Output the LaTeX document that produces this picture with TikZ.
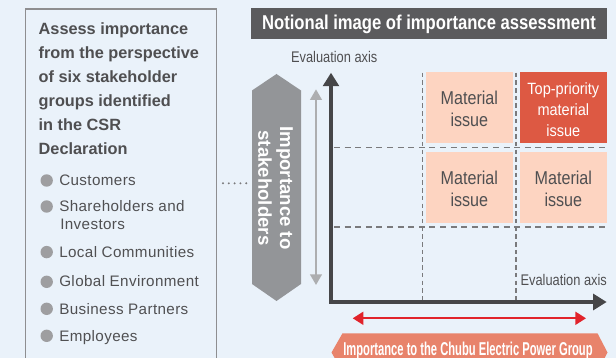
\documentclass[tikz,border=0pt]{standalone}
\usepackage{fontspec}
\usepackage{graphicx}
\setmainfont{Liberation Sans}
\newfontfamily\listfont[LetterSpace=2.5]{Liberation Sans}
\usetikzlibrary{arrows.meta}
\definecolor{bg}{HTML}{EAF2FA}
\definecolor{boxline}{HTML}{8E8E90}
\definecolor{headgray}{HTML}{4F4F51}
\definecolor{listgray}{HTML}{505052}
\definecolor{dotgray}{HTML}{9E9EA0}
\definecolor{titlegray}{HTML}{5B5B5D}
\definecolor{hexgray}{HTML}{939598}
\definecolor{arrowgray}{HTML}{ADAEB0}
\definecolor{axisgray}{HTML}{464648}
\definecolor{dashgray}{HTML}{7A7A7C}
\definecolor{peach}{HTML}{FDD4C1}
\definecolor{redcell}{HTML}{DD5943}
\definecolor{redarrow}{HTML}{E1232B}
\definecolor{bannerc}{HTML}{E8836B}
\newcommand\cnd[2]{\scalebox{#1}[1]{#2}}
\begin{document}
\begin{tikzpicture}[x=1pt,y=-1pt,
  every node/.style={inner sep=0pt,outer sep=0pt},
  headtxt/.style={anchor=base west,font=\fontsize{16.3}{24}\selectfont\bfseries,text=headgray},
  listtxt/.style={anchor=base west,font=\listfont\fontsize{15.2}{18.3}\selectfont,text=listgray},
  bulletdot/.style={fill=dotgray,circle,minimum size=12.4pt},
  cell/.style={minimum width=86.7pt,minimum height=71.6pt},
  celltxt/.style={align=center,font=\fontsize{18.6}{21.7}\selectfont,text=headgray},
  toptxt/.style={align=center,font=\fontsize{16.3}{21.2}\selectfont,text=white},
  axislabel/.style={anchor=base,font=\fontsize{15.4}{18}\selectfont,text=headgray},
  gridv/.style={draw=dashgray,line width=1.4pt,dash pattern=on 4.5pt off 3.2pt},
  gridh/.style={draw=dashgray,line width=1.4pt,dash pattern=on 6pt off 4.6pt},
  axisline/.style={draw=axisgray,line width=4pt,line join=miter,
     {Triangle[width=15.7pt,length=13.5pt]}-{Triangle[width=15.7pt,length=13.5pt]}},
  grayarrow/.style={draw=arrowgray,line width=2.2pt,
     {Triangle[width=11.7pt,length=10.7pt]}-{Triangle[width=11.7pt,length=10.7pt]}},
  redarr/.style={draw=redarrow,line width=2pt,
     {Triangle[width=13pt,length=10.7pt]}-{Triangle[width=13pt,length=10.7pt]}},
  dotline/.style={draw=dashgray,line width=2.2pt,dash pattern=on 0pt off 5.8pt,line cap=round},
]
\useasboundingbox (0,0) rectangle (616,358);
\clip (0,0) rectangle (616,358);
\fill[bg] (0,0) rectangle (616,358);

% left box
\node[draw=boxline,line width=1.3pt,minimum width=191pt,minimum height=380pt,anchor=north west] (lbox) at (25.7,9) {};
\foreach \t [count=\i] in {Assess importance,from the perspective,of six stakeholder,groups identified,in the CSR,Declaration}
  \node[headtxt] (h\i) at (38.7,11+24*\i) {\t};
\foreach \y/\t [count=\i] in {185.7/Customers,211.7/Shareholders and,257.3/Local Communities,287/Global Environment,314/Business Partners,341/Employees}{
  \node[bulletdot] (d\i) at (46.7,\y-5.2) {};
  \node[listtxt] (b\i) at (59.3,\y) {\t};
}
\node[listtxt] (b2x) at (60.3,230) {Investors};

% title banner
\node[fill=titlegray,minimum width=355.7pt,minimum height=30.7pt,anchor=north west] (title) at (251,8) {};
\node[anchor=base,text=white,font=\fontsize{20}{24}\selectfont\bfseries] (titletext) at (429,29.3) {\cnd{0.832}{Notional image of importance assessment}};

% hexagon
\fill[hexgray] (252,90.5) -- (276.5,74) -- (301,90.5) -- (301,284) -- (276.5,301) -- (252,284) -- cycle;
\node[rotate=-90,align=center,text=white,font=\fontsize{18.6}{21.7}\selectfont\bfseries] (hex) at (275.5,188) {Importance to\\stakeholders};

% dotted connector
\coordinate (dotA) at (223,183.3);
\coordinate (dotB) at (246.5,183.3);
\draw[dotline] (dotA) -- (dotB);

% grey double arrow
\coordinate (gtop) at (316,89.3);
\coordinate (gbot) at (316,285);
\draw[grayarrow] (gtop) -- (gbot);

% grid
\coordinate (v1t) at (422.7,72.7); \coordinate (v1b) at (422.7,300);
\coordinate (v2t) at (516,72.7);   \coordinate (v2b) at (516,300);
\coordinate (h1l) at (334,147.7);  \coordinate (h1r) at (606.7,147.7);
\coordinate (h2l) at (334,227);    \coordinate (h2r) at (606.7,227);
\draw[gridv] (v1t) -- (v1b);
\draw[gridv] (v2t) -- (v2b);
\draw[gridh] (h1l) -- (h1r);
\draw[gridh] (h2l) -- (h2r);

% cells
\node[cell,fill=peach] (c11) at (469.35,107.5) {};
\node[cell,fill=redcell] (c12) at (563.35,107.5) {};
\node[cell,fill=peach] (c21) at (469.35,187.5) {};
\node[cell,fill=peach] (c22) at (563.35,187.5) {};
\node[celltxt] (t11) at ([yshift=-1.7pt]c11.center) {\cnd{0.867}{Material}\\\cnd{0.867}{issue}};
\node[toptxt] (t12) at ([yshift=-2.4pt]c12.center) {\cnd{0.89}{Top-priority}\\\cnd{0.89}{material}\\\cnd{0.89}{issue}};
\node[celltxt] (t21) at ([yshift=-1.5pt]c21.center) {\cnd{0.867}{Material}\\\cnd{0.867}{issue}};
\node[celltxt] (t22) at ([yshift=-1.5pt]c22.center) {\cnd{0.867}{Material}\\\cnd{0.867}{issue}};

% axes
\coordinate (ytop) at (331,72.7);
\coordinate (origin) at (331,302);
\coordinate (xend) at (606.7,302);
\draw[axisline] (ytop) -- (origin) -- (xend);
\node[axislabel] (ylab) at (334.2,62.7) {\cnd{0.833}{Evaluation axis}};
\node[axislabel] (xlab) at (563.7,285.7) {\cnd{0.833}{Evaluation axis}};

% red arrow
\coordinate (rl) at (352.7,318.3);
\coordinate (rr) at (586,318.3);
\draw[redarr] (rl) -- (rr);

% bottom banner
\fill[bannerc] (331.5,352.5) -- (342.5,333.3) -- (597.5,333.3) -- (607.5,352.5) -- (597.5,371.7) -- (342.5,371.7) -- cycle;
\node[anchor=base,text=white,font=\fontsize{18.6}{22}\selectfont\bfseries] (bantext) at (468,355) {\resizebox{249.3pt}{\height}{Importance to the Chubu Electric Power Group}};
\end{tikzpicture}
\end{document}
